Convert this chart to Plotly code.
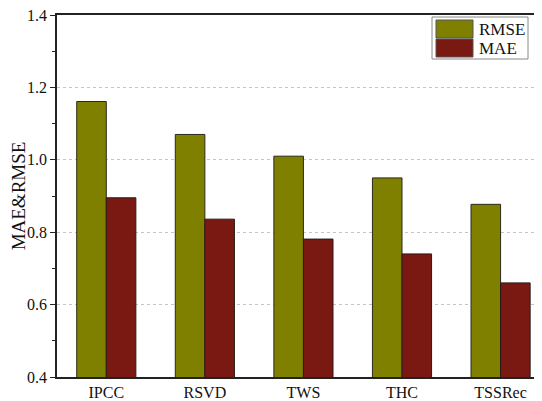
import plotly.graph_objects as go

categories = ["IPCC", "RSVD", "TWS", "THC", "TSSRec"]
rmse = [1.161, 1.070, 1.010, 0.950, 0.877]
mae = [0.895, 0.836, 0.781, 0.740, 0.660]
series_names = ["RMSE", "MAE"]
series_colors = ["#808000", "#7a1812"]

font_family = "Liberation Serif, Times New Roman, serif"

# the page body has an 8px margin; the figure is sized to fill the rest of the window
OFF = 8
W, H = 542 - OFF, 401 - OFF

fig = go.Figure()
fig.add_trace(go.Bar(x=categories, y=rmse, name=series_names[0],
                     marker=dict(color=series_colors[0], line=dict(color="#2a2a1a", width=1))))
fig.add_trace(go.Bar(x=categories, y=mae, name=series_names[1],
                     marker=dict(color=series_colors[1], line=dict(color="#2a1a1a", width=1))))

# plot area in window pixels: x 57..540, y 15..377
L, R, T, B = 57, 540, 15, 377
def px(x):
    return (x - L) / (R - L)
def py(y):
    return (B - y) / (B - T)

# custom legend (large swatches like the reference)
fig.add_shape(type="rect", xref="paper", yref="paper",
              x0=px(432), x1=px(528), y0=py(59), y1=py(17),
              line=dict(color="#888", width=1), fillcolor="white", layer="above")
for i, (nm, col) in enumerate(zip(series_names, series_colors)):
    y_top = 20 + i * 19
    fig.add_shape(type="rect", xref="paper", yref="paper",
                  x0=px(436), x1=px(473), y0=py(y_top + 18), y1=py(y_top),
                  line=dict(color="#555", width=1), fillcolor=col, layer="above")
    fig.add_annotation(xref="paper", yref="paper", x=px(477), y=py(y_top + 9),
                       text=nm, showarrow=False, xanchor="left", yanchor="middle",
                       font=dict(size=17, color="#111", family=font_family))

fig.update_layout(
    width=W, height=H,
    margin=dict(l=L - OFF, r=542 - R, t=T - OFF, b=401 - B),
    paper_bgcolor="white", plot_bgcolor="white",
    barmode="group", bargap=0.4, bargroupgap=0,
    font=dict(family=font_family, size=16, color="#111"),
    showlegend=False,
)
fig.update_xaxes(range=[-0.5, 4.4], showline=True, linecolor="#222", linewidth=1.5,
                 mirror=True, ticks="", tickfont=dict(size=16), showgrid=False,
                 automargin=False)
fig.update_yaxes(range=[0.4, 1.4], dtick=0.2, tickformat=".1f", showline=True,
                 linecolor="#222", linewidth=1.5, mirror="ticks", ticks="outside",
                 ticklen=5, tickcolor="#222", ticklabeloverflow="allow",
                 minor=dict(dtick=0.1, ticks="outside", ticklen=3, tickcolor="#222", showgrid=False),
                 showgrid=True, gridcolor="#c4c4c4", griddash="dot", gridwidth=1,
                 zeroline=False, automargin=False,
                 title=dict(text="MAE&RMSE", font=dict(size=19), standoff=10),
                 tickfont=dict(size=16))

fig.write_html("out.html")
